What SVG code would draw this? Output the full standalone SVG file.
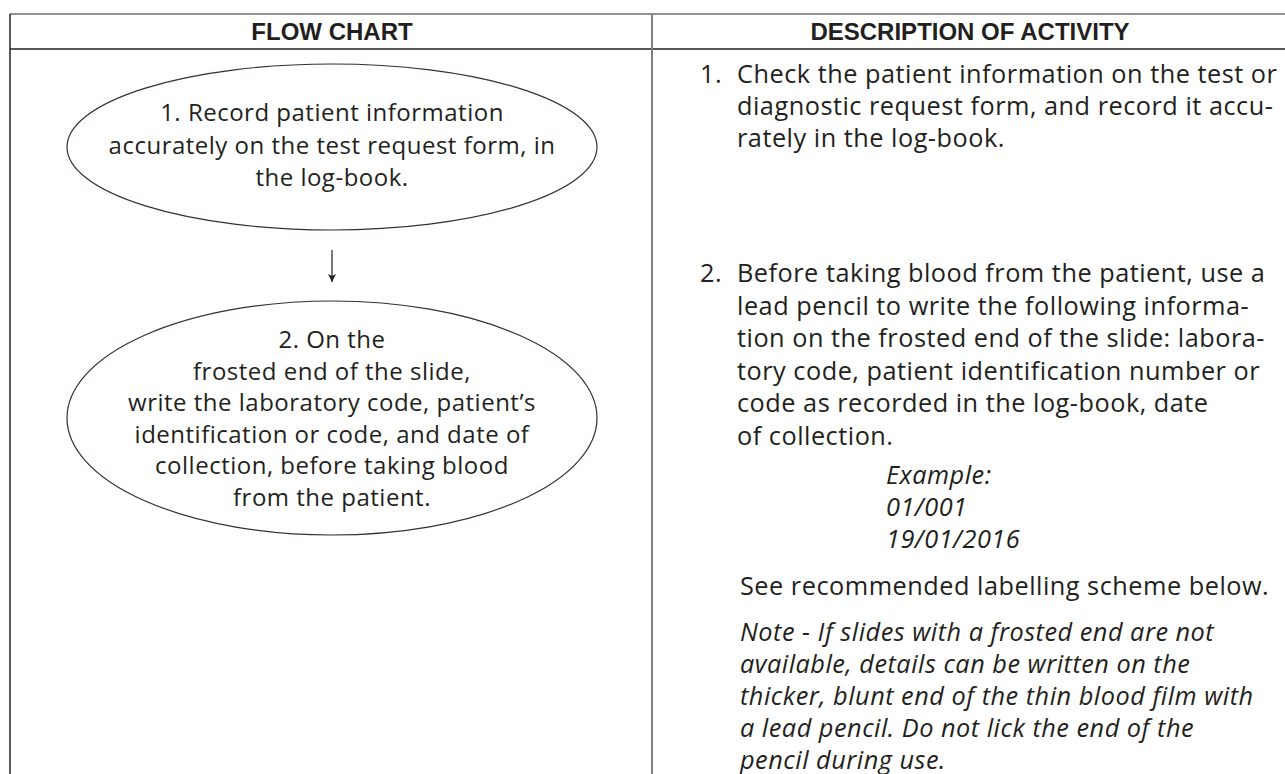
<svg xmlns="http://www.w3.org/2000/svg" width="1285" height="774" viewBox="0 0 1285 774">
<style>
  .hdr { font-family: "Liberation Sans", Arial, sans-serif; font-weight: bold; font-size: 24px; fill: #231f20; text-anchor: middle; }
  .lt { font-family: "Open Sans", "Liberation Sans", sans-serif; font-size: 24px; letter-spacing: 0.5px; fill: #231f20; text-anchor: middle; }
  .rt { font-family: "Open Sans", "Liberation Sans", sans-serif; font-size: 25.3px; letter-spacing: 0.5px; fill: #231f20; }
  .it { font-style: italic; }
  .node { fill: #ffffff; stroke: #3b2c2f; stroke-width: 1.2; }
  .conn { stroke: #231f20; stroke-width: 1.2; fill: none; }
</style>
<defs>
  <marker id="arrow" viewBox="0 0 10 10" refX="10" refY="5" markerWidth="10" markerHeight="8" markerUnits="userSpaceOnUse" orient="auto">
    <path d="M0,0 L10,5 L0,10 L2.5,5 Z" fill="#231f20"/>
  </marker>
</defs>
<rect width="1285" height="774" fill="#ffffff"/>
<g id="table">
  <line x1="10" y1="14" x2="1285" y2="14" stroke="#6d6d6d" stroke-width="1.5"/>
  <line x1="10" y1="49" x2="1285" y2="49" stroke="#231f20" stroke-width="1.5"/>
  <line x1="10" y1="14" x2="10" y2="774" stroke="#231f20" stroke-width="1.5"/>
  <line x1="652" y1="14" x2="652" y2="774" stroke="#808080" stroke-width="2"/>
  <text class="hdr" x="332" y="40">FLOW CHART</text>
  <text class="hdr" x="970" y="40">DESCRIPTION OF ACTIVITY</text>
</g>
<g id="connectors">
  <line class="conn" x1="332" y1="250" x2="332" y2="282" marker-end="url(#arrow)"/>
</g>
<g id="node1">
  <ellipse class="node" cx="332" cy="147" rx="265" ry="83"/>
  <text class="lt" x="332" y="121">1. Record patient information</text>
  <text class="lt" x="332" y="154">accurately on the test request form, in</text>
  <text class="lt" x="332" y="186">the log-book.</text>
</g>
<g id="node2">
  <ellipse class="node" cx="332" cy="418" rx="265" ry="117"/>
  <text class="lt" x="332" y="348">2. On the</text>
  <text class="lt" x="332" y="380">frosted end of the slide,</text>
  <text class="lt" x="332" y="411">write the laboratory code, patient’s</text>
  <text class="lt" x="332" y="443">identification or code, and date of</text>
  <text class="lt" x="332" y="474">collection, before taking blood</text>
  <text class="lt" x="332" y="506">from the patient.</text>
</g>
<g id="description">
  <text class="rt" x="700" y="83">1.</text>
  <text class="rt" x="737" y="83">Check the patient information on the test or</text>
  <text class="rt" x="737" y="115">diagnostic request form, and record it accu-</text>
  <text class="rt" x="737" y="147">rately in the log-book.</text>
  <text class="rt" x="700" y="282">2.</text>
  <text class="rt" x="737" y="282">Before taking blood from the patient, use a</text>
  <text class="rt" x="737" y="314.5">lead pencil to write the following informa-</text>
  <text class="rt" x="737" y="347">tion on the frosted end of the slide: labora-</text>
  <text class="rt" x="737" y="379.5">tory code, patient identification number or</text>
  <text class="rt" x="737" y="412">code as recorded in the log-book, date</text>
  <text class="rt" x="737" y="444.5">of collection.</text>
  <text class="rt it" x="886" y="484">Example:</text>
  <text class="rt it" x="886" y="516">01/001</text>
  <text class="rt it" x="886" y="548">19/01/2016</text>
  <text class="rt" x="740" y="595">See recommended labelling scheme below.</text>
  <text class="rt it" x="740" y="641">Note - If slides with a frosted end are not</text>
  <text class="rt it" x="740" y="673">available, details can be written on the</text>
  <text class="rt it" x="740" y="705">thicker, blunt end of the thin blood film with</text>
  <text class="rt it" x="740" y="737">a lead pencil. Do not lick the end of the</text>
  <text class="rt it" x="740" y="769">pencil during use.</text>
</g>
</svg>
